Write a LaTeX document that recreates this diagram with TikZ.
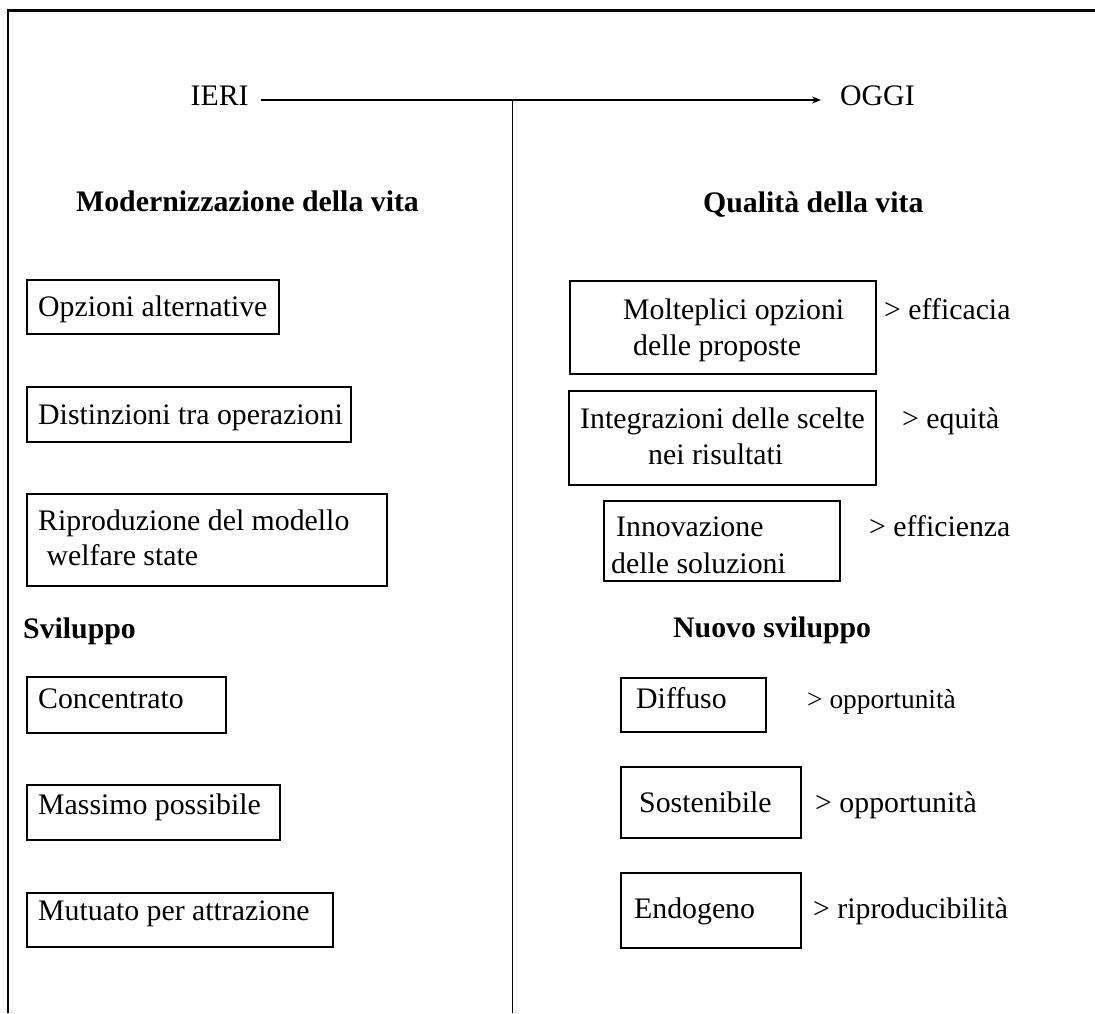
\documentclass[tikz,border=0pt]{standalone}
\usepackage{fontspec}
\setmainfont{Liberation Serif}
\usetikzlibrary{arrows.meta}
\tikzset{
  box/.style={draw, line width=2pt, rectangle, inner sep=0pt, anchor=north west},
  txt/.style={anchor=base west, inner sep=0pt, font=\fontsize{29.8}{35}\selectfont},
  small/.style={anchor=base west, inner sep=0pt, font=\fontsize{27.4}{32}\selectfont},
  hdr/.style={anchor=base west, inner sep=0pt, font=\fontsize{29.8}{35}\selectfont\bfseries},
  frame/.style={line width=2.5pt},
  rule/.style={line width=1.6pt}
}
\begin{document}
\begin{tikzpicture}[x=1pt,y=-1pt]
\useasboundingbox (0,0) rectangle (1095,1013);
% frame
\coordinate (fbl) at (8,1013);
\coordinate (ftl) at (8,10.5);
\coordinate (ftr) at (1095,10.5);
\draw[frame] (fbl) -- (ftl) -- (ftr);
% timeline
\node[txt] (ieri) at (190.5,105.5) {IERI};
\node[txt] (oggi) at (840,105.5) {OGGI};
\coordinate (a0) at (260.5,100);
\coordinate (a1) at (821,100);
\coordinate (c0) at (512.5,100);
\coordinate (c1) at (512.5,1013);
\draw[rule, -{Stealth[length=9pt,width=7pt]}] (a0) -- (a1);
\draw[rule] (c0) -- (c1);
% headers
\node[hdr] (h1) at (76,211.5) {Modernizzazione della vita};
\node[hdr] (h2) at (703,212) {Qualità della vita};
\node[hdr] (h3) at (23,638) {Sviluppo};
\node[hdr] (h4) at (673,637) {Nuovo sviluppo};
% left boxes
\node[box, minimum width=252pt, minimum height=54.5pt] (b1) at (26,278.5) {};
\node[box, minimum width=324pt, minimum height=55pt] (b2) at (26,386) {};
\node[box, minimum width=360pt, minimum height=92pt] (b3) at (26,493) {};
\node[box, minimum width=199pt, minimum height=56pt] (b4) at (26,676) {};
\node[box, minimum width=253pt, minimum height=55pt] (b5) at (26,784) {};
\node[box, minimum width=306pt, minimum height=54pt] (b6) at (26,892) {};
\node[txt] (t1) at (38,316) {Opzioni alternative};
\node[txt] (t2) at (38,424) {Distinzioni tra operazioni};
\node[txt] (t3a) at (38,530) {Riproduzione del modello};
\node[txt] (t3b) at (46.5,565) {welfare state};
\node[txt] (t4) at (38,708) {Concentrato};
\node[txt] (t5) at (38,814) {Massimo possibile};
\node[txt] (t6) at (38,920) {Mutuato per attrazione};
% right boxes
\node[box, minimum width=306pt, minimum height=93pt] (r1) at (568.5,279.6) {};
\node[box, minimum width=307.5pt, minimum height=94pt] (r2) at (567.5,390) {};
\node[box, minimum width=236pt, minimum height=80pt] (r3) at (603,500) {};
\node[box, minimum width=145pt, minimum height=54pt] (r4) at (620,677) {};
\node[box, minimum width=180pt, minimum height=71pt] (r5) at (620,766) {};
\node[box, minimum width=180pt, minimum height=75pt] (r6) at (620,872) {};
\node[txt] (s1a) at (623,319.5) {Molteplici opzioni};
\node[txt] (s1b) at (633,355) {delle proposte};
\node[txt] (e1) at (884,319.5) {> efficacia};
\node[txt] (s2a) at (580,428.7) {Integrazioni delle scelte};
\node[txt] (s2b) at (648,464) {nei risultati};
\node[txt] (e2) at (902,428.7) {> equità};
\node[txt] (s3a) at (616,536) {Innovazione};
\node[txt] (s3b) at (611,573) {delle soluzioni};
\node[txt] (e3) at (869,536) {> efficienza};
\node[txt] (s4) at (636,708.6) {Diffuso};
\node[small] (e4) at (807,708.6) {> opportunità};
\node[txt] (s5) at (639,812.7) {Sostenibile};
\node[txt] (e5) at (815,812.7) {> opportunità};
\node[txt] (s6) at (634,918) {Endogeno};
\node[txt] (e6) at (813,918) {> riproducibilità};
\end{tikzpicture}
\end{document}
